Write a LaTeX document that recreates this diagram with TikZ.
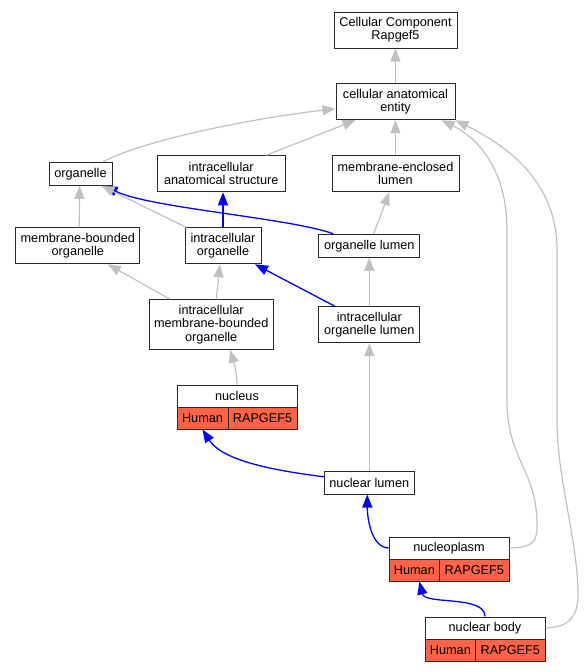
\documentclass[tikz,border=0pt]{standalone}
\usepackage{fontspec}
\setmainfont{Liberation Sans}
\usetikzlibrary{arrows.meta}
\definecolor{cellred}{RGB}{255,99,71}
\definecolor{edgegray}{RGB}{192,192,192}
\definecolor{boxline}{RGB}{40,40,40}
\begin{document}
\begin{tikzpicture}[x=1pt,y=-1pt,
  box/.style={draw=boxline,line width=1pt,fill=white,inner sep=0pt,align=center,
    font=\fontsize{12.7}{13.3}\selectfont},
  cell/.style={box,fill=cellred,minimum height=22pt},
  gedge/.style={draw=edgegray,line width=1.2pt,-{Triangle[length=13pt,width=10pt]}},
  bedge/.style={draw=blue,line width=1.3pt,-{Triangle[length=13pt,width=10pt]}}]
\useasboundingbox (0,0) rectangle (584,672);
% nodes
\node[box,minimum width=123pt,minimum height=36pt] (cc) at (395.5,30) {Cellular Component\\Rapgef5};
\node[box,minimum width=119pt,minimum height=36pt] (cae) at (395.5,101.7) {cellular anatomical\\entity};
\node[box,minimum width=63pt,minimum height=23pt] (organelle) at (80.5,173.8) {organelle};
\node[box,minimum width=128pt,minimum height=36pt] (ias) at (221.2,173.8) {intracellular\\anatomical structure};
\node[box,minimum width=127pt,minimum height=36pt] (mel) at (395.5,173.8) {membrane-enclosed\\lumen};
\node[box,minimum width=124pt,minimum height=36pt] (mbo) at (77.8,245.8) {membrane-bounded\\organelle};
\node[box,minimum width=76pt,minimum height=36pt] (io) at (223,245.8) {intracellular\\organelle};
\node[box,minimum width=101pt,minimum height=23pt] (ol) at (369.3,245.8) {organelle lumen};
\node[box,minimum width=124pt,minimum height=49.6pt] (imbo) at (211.2,324.5) {intracellular\\membrane-bounded\\organelle};
\node[box,minimum width=101pt,minimum height=36pt] (iol) at (369.3,324.7) {intracellular\\organelle lumen};
\node[box,minimum width=120pt,minimum height=22pt] (nucleus) at (237,396) {nucleus};
\node[cell,minimum width=51pt] (nucleusH) at (202.5,418) {Human};
\node[cell,minimum width=69pt] (nucleusR) at (262.5,418) {RAPGEF5};
\node[box,minimum width=90pt,minimum height=22.5pt] (nl) at (369.3,482.8) {nuclear lumen};
\node[box,minimum width=120pt,minimum height=22pt] (np) at (449,548) {nucleoplasm};
\node[cell,minimum width=50.7pt] (npH) at (414.35,570) {Human};
\node[cell,minimum width=69.3pt] (npR) at (474.35,570) {RAPGEF5};
\node[box,minimum width=120pt,minimum height=22pt] (nb) at (485,628) {nuclear body};
\node[cell,minimum width=50.7pt] (nbH) at (450.35,650) {Human};
\node[cell,minimum width=69.3pt] (nbR) at (510.35,650) {RAPGEF5};
% edges
\draw[bedge] ([xshift=15pt]ol.north west) .. controls (290,218) and (150,208) .. ([xshift=-8pt]organelle.south east);
\draw[gedge] (cae.north) -- (cc.south);
\draw[gedge] ([xshift=22.5pt]organelle.north) .. controls (140,142) and (240,120) .. ([yshift=-7pt]cae.west);
\draw[gedge] ([xshift=44.8pt]ias.north) -- ([xshift=-40pt]cae.south);
\draw[gedge] (mel.north) -- (cae.south);
\draw[gedge] (np.east) .. controls (535,547.5) and (537,540) .. (537,525) .. controls (537,470) and (507,460) .. (507,400) -- (507,230) .. controls (507,170) and (478,138) .. ([xshift=46pt]cae.south);
\draw[gedge] (nb.east) .. controls (570,627.5) and (578,615) .. (578,595) .. controls (578,540) and (557,480) .. (557,420) -- (557,250) .. controls (557,180) and (505,145) .. (cae.south east);
\draw[gedge] ([xshift=1.5pt]mbo.north) -- ([xshift=-1pt]organelle.south);
\draw[gedge] ([xshift=1.7pt]io.north west) -- ([xshift=-11pt]organelle.south east);
\draw[bedge] (io.north) -- (io.north |- ias.south);
\draw[gedge] ([xshift=-41.2pt]imbo.north) -- ([xshift=30pt]mbo.south);
\draw[gedge] ([xshift=5pt]imbo.north) -- ([xshift=-3pt]io.south);
\draw[bedge] ([xshift=16.5pt]iol.north west) -- ([xshift=32pt]io.south);
\draw[gedge] ([xshift=4.4pt]ol.north) -- ([xshift=-6.2pt]mel.south);
\draw[gedge] (iol.north) -- (ol.south);
\draw[gedge] (nucleus.north) .. controls (237,372) and (233,360) .. ([xshift=19pt]imbo.south);
\draw[gedge] (nl.north) -- (iol.south);
\draw[bedge] ([yshift=6pt]nl.west) .. controls (270,470) and (222,460) .. (nucleusH.south);
\draw[bedge] (np.west) .. controls (372,547.5) and (367.3,520) .. ([xshift=-2pt]nl.south);
\draw[bedge] (nb.north) .. controls (485,595) and (425,605) .. ([xshift=5pt]npH.south);
\end{tikzpicture}
\end{document}
